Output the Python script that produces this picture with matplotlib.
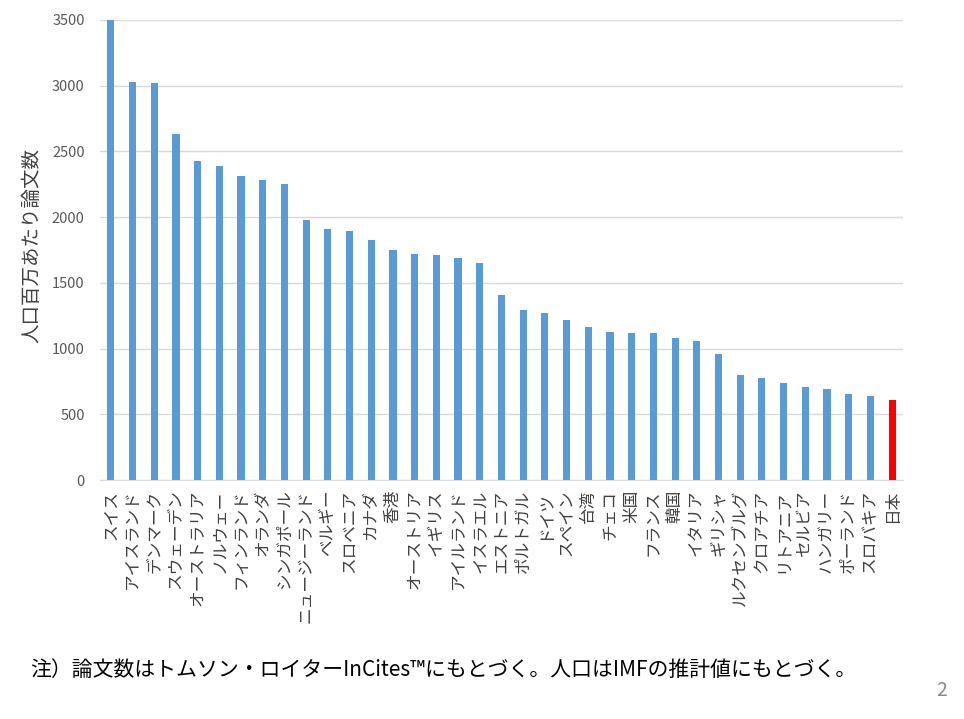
import matplotlib
matplotlib.use("Agg")
import matplotlib.pyplot as plt

plt.rcParams['font.family'] = ['Noto Sans CJK JP', 'DejaVu Sans']

countries = ["スイス", "アイスランド", "デンマーク", "スウェーデン", "オーストラリア", "ノルウェー",
             "フィンランド", "オランダ", "シンガポール", "ニュージーランド", "ベルギー", "スロベニア",
             "カナダ", "香港", "オーストリア", "イギリス", "アイルランド", "イスラエル", "エストニア",
             "ポルトガル", "ドイツ", "スペイン", "台湾", "チェコ", "米国", "フランス", "韓国",
             "イタリア", "ギリシャ", "ルクセンブルグ", "クロアチア", "リトアニア", "セルビア",
             "ハンガリー", "ポーランド", "スロバキア", "日本"]
values = [3500, 3028, 3020, 2630, 2425, 2389, 2311, 2280, 2252, 1978, 1911, 1893, 1825,
          1748, 1720, 1710, 1689, 1651, 1408, 1292, 1272, 1215, 1167, 1126, 1116, 1116,
          1078, 1058, 961, 796, 776, 738, 708, 690, 652, 642, 611]
highlight = "日本"
yticks = [0, 500, 1000, 1500, 2000, 2500, 3000, 3500]
ylabel = "人口百万あたり論文数"
note = "注）論文数はトムソン・ロイターInCites™にもとづく。人口はIMFの推計値にもとづく。"
page = "2"

fig = plt.figure(figsize=(9.64, 7.19), dpi=100)
ax = fig.add_axes([0.1037, 0.3324, 0.833, 0.6398])

colors = ["#FF0000" if c == highlight else "#5B9BD5" for c in countries]
x = list(range(len(countries)))
ax.bar(x, values, width=0.33, color=colors, zorder=3)

ax.set_xlim(-0.5, len(countries) - 0.5)
ax.set_ylim(0, 3500)
ax.set_yticks(yticks)
ax.set_yticklabels([str(v) for v in yticks])
ax.set_xticks(x)
ax.set_xticklabels(countries, rotation=90, fontsize=12, color="#404040")
ax.tick_params(axis='y', length=0, pad=11, labelsize=10.5, labelcolor="#595959")
ax.tick_params(axis='x', length=0, pad=7)
ax.grid(axis='y', color="#D9D9D9", linewidth=1, zorder=0)
for s in ["top", "right", "left"]:
    ax.spines[s].set_visible(False)
ax.spines["bottom"].set_color("#D9D9D9")
ax.set_ylabel(ylabel, fontsize=14, color="#404040")
ax.yaxis.set_label_coords(-0.072, 0.51)

fig.text(30 / 964, 1 - 670 / 719, note, fontsize=15, color="black", va="center", ha="left")
fig.text(942 / 964, 1 - 690 / 719, page, fontsize=14, color="#8C8C8C", va="center", ha="center")

fig.savefig("out.png", dpi=100)
